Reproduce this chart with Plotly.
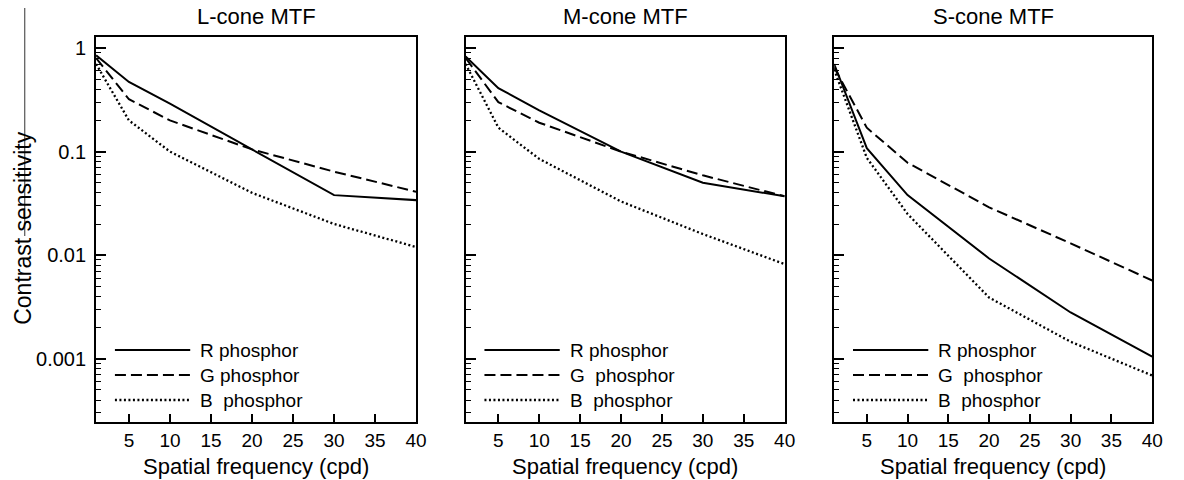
import plotly.graph_objects as go

freq = [1, 5, 10, 20, 30, 40]

panel_titles = ["L-cone MTF", "M-cone MTF", "S-cone MTF"]

# L-cone
L_R = [0.85, 0.47, 0.29, 0.105, 0.038, 0.034]
L_G = [0.80, 0.32, 0.20, 0.105, 0.064, 0.041]
L_B = [0.70, 0.20, 0.10, 0.040, 0.020, 0.012]
# M-cone
M_R = [0.83, 0.41, 0.25, 0.10, 0.050, 0.037]
M_G = [0.80, 0.30, 0.19, 0.10, 0.059, 0.037]
M_B = [0.70, 0.17, 0.085, 0.033, 0.016, 0.0082]
# S-cone
S_R = [0.70, 0.108, 0.038, 0.0093, 0.0028, 0.00105]
S_G = [0.65, 0.17, 0.078, 0.029, 0.013, 0.0057]
S_B = [0.62, 0.087, 0.025, 0.0039, 0.00146, 0.00069]

series = [
    [L_R, L_G, L_B],
    [M_R, M_G, M_B],
    [S_R, S_G, S_B],
]
legend_labels = [
    ["R phosphor", "G phosphor", "B  phosphor"],
    ["R phosphor", "G  phosphor", "B  phosphor"],
    ["R phosphor", "G  phosphor", "B  phosphor"],
]
x_title = "Spatial frequency (cpd)"
y_title = "Contrast sensitivity"
dashes = ["solid", "11px,5px", "2px,2.5px"]
widths = [2, 2, 2.3]

ytickvals = [1, 0.1, 0.01, 0.001]
yticktext = ["1", "0.1", "0.01", "0.001"]
xtickvals = [5, 10, 15, 20, 25, 30, 35, 40]

minor_vals = []
for dec in [1e-4, 1e-3, 1e-2, 1e-1]:
    for m in range(2, 10):
        minor_vals.append(m * dec)

W, H = 1184, 480
px_domains = [(97, 420), (470, 792), (842, 1163)]
ytop, ybot = 37, 422
ydom = [1 - ybot / H, 1 - ytop / H]

FONT = "Liberation Sans, Arial, Helvetica, sans-serif"

fig = go.Figure()
for i in range(3):
    ax = "" if i == 0 else str(i + 1)
    for j in range(3):
        fig.add_trace(go.Scatter(
            x=freq, y=series[i][j], mode="lines",
            line=dict(color="black", width=widths[j], dash=dashes[j]),
            showlegend=False, xaxis="x" + ax, yaxis="y" + ax,
        ))
    x0, x1 = px_domains[i]
    fig.layout["xaxis" + ax] = dict(
        domain=[x0 / W, x1 / W], range=[1, 40], anchor="y" + ax,
        tickvals=xtickvals, ticks="inside", ticklen=8, tickwidth=1.5,
        tickcolor="black", showline=True, linecolor="black", linewidth=2,
        mirror=True, showgrid=False, zeroline=False,
        tickfont=dict(size=19, color="black", family=FONT),
    )
    fig.layout["yaxis" + ax] = dict(
        domain=ydom, type="log", range=[-3.61, 0.106], anchor="x" + ax,
        tickvals=ytickvals, ticktext=yticktext if i == 0 else [""] * 4,
        showticklabels=(i == 0), ticklabelstandoff=4,
        ticks="inside", ticklen=10, tickwidth=1.5, tickcolor="black",
        minor=dict(tickvals=minor_vals, ticks="inside", ticklen=5,
                   tickwidth=1, tickcolor="black", showgrid=False),
        showline=True, linecolor="black", linewidth=2, mirror=True,
        showgrid=False, zeroline=False,
        tickfont=dict(size=20, color="black", family=FONT),
    )
    # panel title
    fig.add_annotation(
        text=panel_titles[i], xref="x" + ax + " domain", yref="paper",
        x=0.5, y=1 - 17 / H, xanchor="center", yanchor="middle",
        showarrow=False, font=dict(size=22, color="black", family=FONT),
    )
    # x-axis title
    fig.add_annotation(
        text=x_title, xref="x" + ax + " domain", yref="paper",
        x=0.5, y=1 - 466 / H, xanchor="center", yanchor="middle",
        showarrow=False, font=dict(size=22, color="black", family=FONT),
    )
    # legend inside panel
    rows_px = [350, 375, 400]
    for j in range(3):
        yd = (ybot - rows_px[j]) / (ybot - ytop)
        fig.add_shape(
            type="line", xref="x" + ax + " domain", yref="y" + ax + " domain",
            x0=19 / (x1 - x0), x1=95 / (x1 - x0), y0=yd, y1=yd,
            line=dict(color="black", width=widths[j], dash=dashes[j]),
        )
        fig.add_annotation(
            text=legend_labels[i][j], xref="x" + ax + " domain",
            yref="y" + ax + " domain", x=103 / (x1 - x0), y=yd,
            xanchor="left", yanchor="middle", showarrow=False,
            font=dict(size=19, color="black", family=FONT),
        )

# y-axis title
fig.add_annotation(
    text=y_title, xref="paper", yref="paper", x=23 / W, y=1 - 228 / H,
    xanchor="center", yanchor="middle", textangle=-90, showarrow=False,
    font=dict(size=23, color="black", family=FONT),
)

# stray vertical rule at left edge of the original figure
fig.add_shape(type="line", xref="paper", yref="paper",
              x0=25 / W, x1=25 / W, y0=1 - 8 / H, y1=1 - 236 / H,
              line=dict(color="#333333", width=1))

fig.update_layout(
    width=W, height=H, margin=dict(l=0, r=0, t=0, b=0),
    paper_bgcolor="white", plot_bgcolor="white",
    font=dict(family=FONT, color="black"),
)
fig.write_html("out.html")
